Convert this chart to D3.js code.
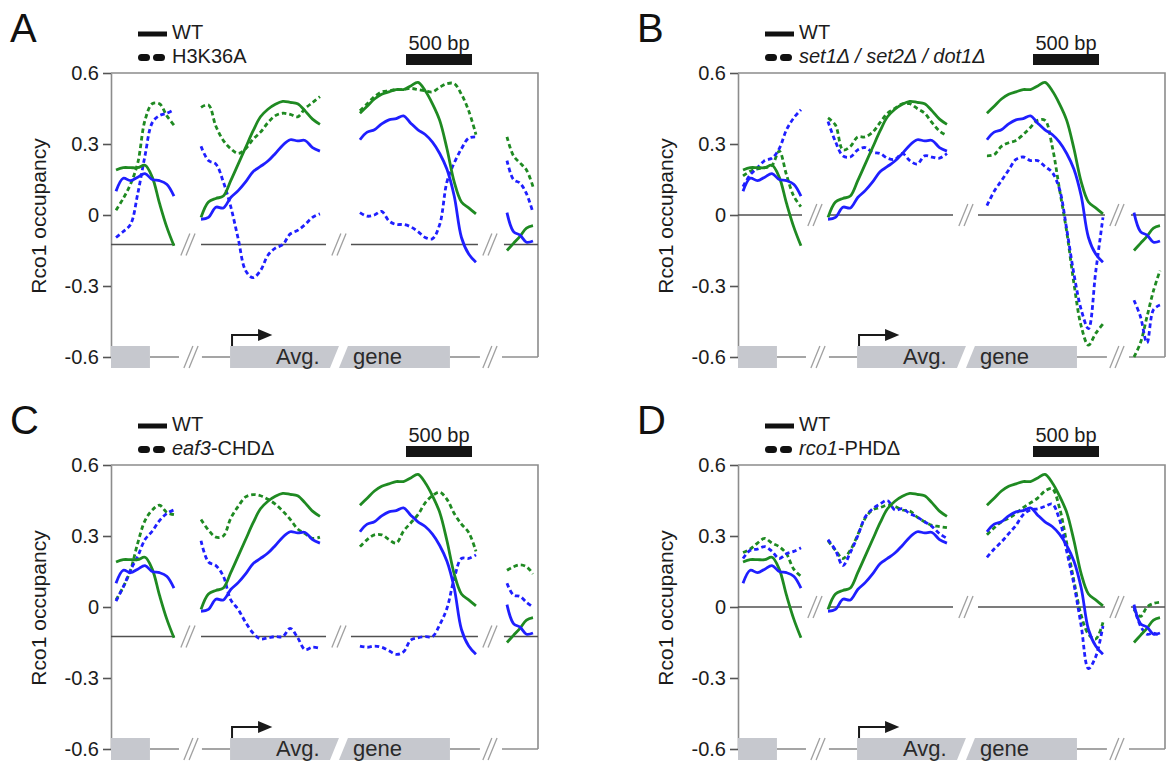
<!DOCTYPE html>
<html>
<head>
<meta charset="utf-8">
<script src="https://cdn.jsdelivr.net/npm/d3@7"></script>
<style>
  body { margin: 0; background: #fff; }
  svg { display: block; font-family: "Liberation Sans", Arial, Helvetica, sans-serif; }
</style>
</head>
<body>
<svg id="fig" width="1169" height="764"></svg>
<script>
// ---------------------------------------------------------------
// Rco1 occupancy across an averaged gene (four probe windows:
// upstream gene end, 5' region, 3' region, downstream gene start)
// ---------------------------------------------------------------

const yTicks = [0.6, 0.3, 0, -0.3, -0.6];
const yTickLabels = ["0.6", "0.3", "0", "-0.3", "-0.6"];
const panelLetters = ["A", "B", "C", "D"];
const yAxisTitle = "Rco1 occupancy";
const wtLabel = "WT";
const scaleBarLabel = "500 bp";
const scaleBarBp = 500;

// mutant legend labels: [text, italic]
const mutantLabelA = [["H3K36A", false]];
const mutantLabelB = [["set1Δ / set2Δ / dot1Δ", true]];
const mutantLabelC = [["eaf3", true], ["-CHDΔ", false]];
const mutantLabelD = [["rco1", true], ["-PHDΔ", false]];

// reference level drawn as thin horizontal rule in each panel
const referenceLevels = [-0.125, 0, -0.125, 0];

// probe window spans along the plotted axis (bp)
const axisLengthBp = 3235;
const probeSpansBp = [[38, 477], [682, 1583], [1886, 2765], [3000, 3197]];

// ---- wild type (shared by all panels) ----
const wtGreen = [
  [0.19, 0.20, 0.20, 0.20, 0.21, 0.16, 0.05, -0.05, -0.13],
  [-0.01, 0.055, 0.07, 0.08, 0.145, 0.215, 0.285, 0.355, 0.415, 0.447, 0.468, 0.48, 0.476, 0.47, 0.44, 0.405, 0.383],
  [0.43, 0.46, 0.49, 0.51, 0.52, 0.53, 0.53, 0.545, 0.56, 0.525, 0.47, 0.40, 0.28, 0.14, 0.055, 0.03, 0.005],
  [-0.15, -0.12, -0.09, -0.055, -0.045]
];
const wtBlue = [
  [0.10, 0.155, 0.145, 0.16, 0.175, 0.15, 0.145, 0.13, 0.08],
  [-0.018, -0.01, 0.033, 0.03, 0.074, 0.103, 0.14, 0.183, 0.205, 0.228, 0.26, 0.295, 0.318, 0.313, 0.315, 0.285, 0.27],
  [0.318, 0.35, 0.36, 0.385, 0.402, 0.407, 0.419, 0.388, 0.36, 0.34, 0.308, 0.26, 0.193, 0.08, -0.095, -0.165, -0.2],
  [0.01, -0.07, -0.085, -0.115, -0.11]
];

// ---- H3K36A ----
const h3k36aGreen = [
  [0.02, 0.07, 0.13, 0.22, 0.40, 0.47, 0.47, 0.42, 0.38],
  [0.455, 0.465, 0.375, 0.315, 0.28, 0.26, 0.28, 0.32, 0.35, 0.39, 0.42, 0.43, 0.425, 0.415, 0.45, 0.475, 0.5],
  [0.44, 0.47, 0.5, 0.52, 0.525, 0.53, 0.53, 0.535, 0.53, 0.525, 0.52, 0.54, 0.555, 0.555, 0.51, 0.44, 0.34],
  [0.33, 0.25, 0.22, 0.19, 0.12]
];
const h3k36aBlue = [
  [-0.095, -0.07, -0.04, 0.09, 0.25, 0.39, 0.42, 0.43, 0.445],
  [0.29, 0.23, 0.215, 0.14, 0.035, -0.1, -0.235, -0.265, -0.235, -0.17, -0.14, -0.125, -0.08, -0.065, -0.04, -0.01, 0.005],
  [0.01, -0.005, 0.0, 0.015, -0.025, -0.04, -0.04, -0.05, -0.07, -0.095, -0.1, -0.04, 0.14, 0.22, 0.28, 0.325, 0.33],
  [0.23, 0.15, 0.135, 0.09, 0.01]
];

// ---- set1Δ / set2Δ / dot1Δ ----
const tripleGreen = [
  [0.165, 0.185, 0.195, 0.2, 0.21, 0.27, 0.17, 0.08, 0.035],
  [0.41, 0.38, 0.275, 0.29, 0.33, 0.33, 0.35, 0.39, 0.43, 0.45, 0.47, 0.47, 0.45, 0.43, 0.39, 0.355, 0.335],
  [0.25, 0.255, 0.29, 0.305, 0.315, 0.34, 0.37, 0.4, 0.4, 0.29, 0.11, -0.07, -0.29, -0.47, -0.55, -0.5, -0.46],
  [-0.6, -0.54, -0.43, -0.32, -0.235]
];
const tripleBlue = [
  [0.12, 0.17, 0.2, 0.23, 0.24, 0.28, 0.36, 0.41, 0.445],
  [0.395, 0.31, 0.25, 0.245, 0.275, 0.285, 0.265, 0.26, 0.24, 0.235, 0.26, 0.23, 0.215, 0.25, 0.245, 0.24, 0.26],
  [0.04, 0.1, 0.145, 0.19, 0.235, 0.245, 0.23, 0.23, 0.205, 0.18, 0.11, -0.06, -0.25, -0.4, -0.48, -0.24, -0.01],
  [-0.36, -0.43, -0.54, -0.4, -0.38]
];

// ---- eaf3-CHDΔ ----
const eaf3Green = [
  [0.03, 0.085, 0.155, 0.27, 0.365, 0.41, 0.43, 0.4, 0.39],
  [0.37, 0.325, 0.295, 0.3, 0.375, 0.425, 0.465, 0.475, 0.47, 0.455, 0.435, 0.405, 0.37, 0.33, 0.31, 0.29, 0.295],
  [0.255, 0.285, 0.305, 0.305, 0.285, 0.27, 0.32, 0.355, 0.39, 0.44, 0.47, 0.485, 0.455, 0.395, 0.35, 0.315, 0.235],
  [0.155, 0.17, 0.178, 0.17, 0.14]
];
const eaf3Blue = [
  [0.025, 0.085, 0.155, 0.215, 0.285, 0.32, 0.365, 0.395, 0.41],
  [0.28, 0.19, 0.175, 0.13, 0.03, -0.01, -0.065, -0.11, -0.135, -0.13, -0.125, -0.125, -0.09, -0.13, -0.18, -0.17, -0.175],
  [-0.165, -0.17, -0.165, -0.17, -0.185, -0.2, -0.19, -0.14, -0.13, -0.125, -0.125, -0.075, -0.005, 0.12, 0.205, 0.205, 0.22],
  [0.1, 0.05, 0.045, 0.02, 0.0]
];

// ---- rco1-PHDΔ ----
const rco1Green = [
  [0.23, 0.245, 0.27, 0.29, 0.27, 0.255, 0.225, 0.16, 0.13],
  [0.28, 0.24, 0.205, 0.24, 0.305, 0.375, 0.41, 0.42, 0.43, 0.425, 0.41, 0.405, 0.38, 0.36, 0.345, 0.34, 0.335],
  [0.305, 0.335, 0.36, 0.375, 0.395, 0.42, 0.44, 0.46, 0.49, 0.5, 0.42, 0.27, 0.11, -0.035, -0.115, -0.135, -0.065],
  [-0.01, -0.04, 0.0, 0.015, 0.02]
];
const rco1Blue = [
  [0.205, 0.24, 0.245, 0.255, 0.235, 0.205, 0.225, 0.235, 0.25],
  [0.285, 0.24, 0.175, 0.23, 0.3, 0.38, 0.415, 0.435, 0.45, 0.41, 0.415, 0.395, 0.38, 0.36, 0.34, 0.31, 0.29],
  [0.21, 0.245, 0.275, 0.31, 0.345, 0.39, 0.41, 0.415, 0.425, 0.435, 0.37, 0.235, 0.095, -0.08, -0.26, -0.21, -0.08],
  [0.0, -0.08, -0.115, -0.11, -0.12]
];

// ---------------------------------------------------------------
// layout
// ---------------------------------------------------------------
const COLORS = { green: "#1f8a22", blue: "#1f1fff", frame: "#8c8c8c", ink: "#1c1c1c",
                 box: "#c6c8ce", diagram: "#8f8f8f", rule: "#505050", brk: "#a0a0a0" };
const PLOT_W = 427;
const TOP = 73, BOTTOM = 357;      // y of 0.6 and -0.6 inside a panel

const panels = [
  { ox: 111, oy: 0,   letter: panelLetters[0], label: mutantLabelA, ref: referenceLevels[0], green: h3k36aGreen, blue: h3k36aBlue },
  { ox: 738, oy: 0,   letter: panelLetters[1], label: mutantLabelB, ref: referenceLevels[1], green: tripleGreen, blue: tripleBlue },
  { ox: 111, oy: 392, letter: panelLetters[2], label: mutantLabelC, ref: referenceLevels[2], green: eaf3Green,   blue: eaf3Blue },
  { ox: 738, oy: 392, letter: panelLetters[3], label: mutantLabelD, ref: referenceLevels[3], green: rco1Green,   blue: rco1Blue }
];

// reference-rule pieces and break positions (bp along the axis)
const ruleSpansBp = [[0, 485], [682, 1629], [1818, 2780], [2977, 3235]];
const ruleBreaksBp = [583, 1727, 2871];
// gene cartoon (bp along the axis)
const geneUpBoxBp = [0, 295];
const geneLinesBp = [[295, 515], [689, 902], [2568, 2795], [2962, 3235]];
const geneBreaksBp = [606, 2871];
const tssBp = 917, arrowHeadBaseBp = 1114, arrowTipBp = 1222;
const avgBoxBp = { left: 902, topRight: 1727, bottomRight: 1659 };
const geneBoxBp = { topLeft: 1795, bottomLeft: 1727, right: 2568 };
const avgTextBp = 1250, geneTextBp = 1833;
const scaleBarStartBp = 2235;

const svg = d3.select("#fig");

function breakMark(g, cx, cy) {
  g.append("polygon")
    .attr("points", `${cx - 9},${cy + 11} ${cx + 1},${cy - 11} ${cx + 9},${cy - 11} ${cx - 1},${cy + 11}`)
    .attr("fill", "#fff");
  [-2.6, 2.6].forEach(o => {
    g.append("line")
      .attr("x1", cx + o - 4.5).attr("y1", cy + 11)
      .attr("x2", cx + o + 4.5).attr("y2", cy - 11)
      .attr("stroke", COLORS.brk).attr("stroke-width", 1.3);
  });
}

function seriesPoints(segValues, k) {
  const [a, b] = probeSpansBp[k];
  const n = segValues.length;
  return segValues.map((v, j) => ({ bp: a + (b - a) * j / (n - 1), v }));
}

panels.forEach(p => {
  const g = svg.append("g");
  const x = d3.scaleLinear().domain([0, axisLengthBp]).range([p.ox, p.ox + PLOT_W]);
  const y = d3.scaleLinear().domain([-0.6, 0.6]).range([p.oy + BOTTOM, p.oy + TOP]);

  // panel letter
  g.append("text").attr("x", p.ox - 101).attr("y", p.oy + 42)
    .attr("font-size", 40).attr("fill", "#111").text(p.letter);

  // legend
  g.append("line").attr("x1", p.ox + 27).attr("x2", p.ox + 56)
    .attr("y1", p.oy + 34).attr("y2", p.oy + 34)
    .attr("stroke", "#111").attr("stroke-width", 5);
  [[30.5, 35.5], [45.5, 50.5]].forEach(([a, b]) => {
    g.append("line").attr("x1", p.ox + a).attr("x2", p.ox + b)
      .attr("y1", p.oy + 57.5).attr("y2", p.oy + 57.5)
      .attr("stroke", "#111").attr("stroke-width", 7).attr("stroke-linecap", "round");
  });
  g.append("text").attr("x", p.ox + 61).attr("y", p.oy + 39)
    .attr("font-size", 20).attr("fill", COLORS.ink).text(wtLabel);
  const ml = g.append("text").attr("x", p.ox + 61).attr("y", p.oy + 63)
    .attr("font-size", 20).attr("fill", COLORS.ink);
  p.label.forEach(([t, it]) => {
    ml.append("tspan").attr("font-style", it ? "italic" : "normal").text(t);
  });

  // scale bar
  const sb0 = x(scaleBarStartBp), sb1 = x(scaleBarStartBp + scaleBarBp);
  g.append("rect").attr("x", sb0).attr("y", p.oy + 54)
    .attr("width", sb1 - sb0).attr("height", 11).attr("fill", "#151515");
  g.append("text").attr("x", (sb0 + sb1) / 2).attr("y", p.oy + 50)
    .attr("text-anchor", "middle").attr("font-size", 20).attr("fill", COLORS.ink)
    .text(scaleBarLabel);

  // y axis
  const axis = d3.axisLeft(y).tickValues(yTicks).tickSize(8).tickSizeOuter(0).tickPadding(4)
    .tickFormat((d, i) => yTickLabels[i]);
  const ag = g.append("g").attr("transform", `translate(${p.ox},0)`).call(axis);
  ag.select(".domain").attr("stroke", COLORS.frame).attr("stroke-width", 1.6);
  ag.selectAll(".tick line").attr("stroke", "#555").attr("stroke-width", 1.6);
  ag.selectAll(".tick text").attr("font-size", 20).attr("fill", COLORS.ink)
    .attr("font-family", "Liberation Sans, Arial, sans-serif");

  // top and right frame
  g.append("path")
    .attr("d", `M${p.ox},${y(0.6)}H${x(axisLengthBp)}V${y(-0.6)}`)
    .attr("fill", "none").attr("stroke", COLORS.frame).attr("stroke-width", 1.6);

  // y title
  g.append("text")
    .attr("transform", `translate(${p.ox - 65},${p.oy + 216}) rotate(-90)`)
    .attr("text-anchor", "middle").attr("font-size", 21).attr("fill", COLORS.ink)
    .text(yAxisTitle);

  // reference rule with breaks
  ruleSpansBp.forEach(([a, b]) => {
    g.append("line").attr("x1", x(a)).attr("x2", x(b))
      .attr("y1", y(p.ref)).attr("y2", y(p.ref))
      .attr("stroke", COLORS.rule).attr("stroke-width", 1.5);
  });
  ruleBreaksBp.forEach(b => breakMark(g, x(b), y(p.ref)));

  // gene cartoon along the -0.6 level
  const yb = y(-0.6);
  geneLinesBp.forEach(([a, b]) => {
    g.append("line").attr("x1", x(a)).attr("x2", x(b)).attr("y1", yb).attr("y2", yb)
      .attr("stroke", COLORS.diagram).attr("stroke-width", 1.6);
  });
  geneBreaksBp.forEach(b => breakMark(g, x(b), yb));
  g.append("rect").attr("x", x(geneUpBoxBp[0])).attr("y", yb - 11)
    .attr("width", x(geneUpBoxBp[1]) - x(geneUpBoxBp[0])).attr("height", 22)
    .attr("fill", COLORS.box);
  g.append("polygon").attr("points", [
      [x(avgBoxBp.left), yb - 11], [x(avgBoxBp.topRight), yb - 11],
      [x(avgBoxBp.bottomRight), yb + 11], [x(avgBoxBp.left), yb + 11]
    ].map(d => d.join(",")).join(" ")).attr("fill", COLORS.box);
  g.append("polygon").attr("points", [
      [x(geneBoxBp.topLeft), yb - 11], [x(geneBoxBp.right), yb - 11],
      [x(geneBoxBp.right), yb + 11], [x(geneBoxBp.bottomLeft), yb + 11]
    ].map(d => d.join(",")).join(" ")).attr("fill", COLORS.box);
  g.append("text").attr("x", x(avgTextBp)).attr("y", yb + 7)
    .attr("font-size", 22).attr("fill", "#2a2a2a").text("Avg.");
  g.append("text").attr("x", x(geneTextBp)).attr("y", yb + 7)
    .attr("font-size", 22).attr("fill", "#2a2a2a").text("gene");
  // transcription start arrow
  g.append("path")
    .attr("d", `M${x(tssBp)},${yb - 11}V${yb - 22}H${x(arrowHeadBaseBp) + 2}`)
    .attr("fill", "none").attr("stroke", "#1a1a1a").attr("stroke-width", 2);
  g.append("polygon").attr("points",
      `${x(arrowHeadBaseBp)},${yb - 28} ${x(arrowTipBp)},${yb - 22} ${x(arrowHeadBaseBp)},${yb - 16}`)
    .attr("fill", "#1a1a1a");

  // profiles
  const line = d3.line().x(d => x(d.bp)).y(d => y(d.v)).curve(d3.curveCatmullRom.alpha(0.5));
  const series = [
    { data: p.green, color: COLORS.green, dash: "4.5,3" },
    { data: p.blue,  color: COLORS.blue,  dash: "4.5,3" },
    { data: wtGreen, color: COLORS.green, dash: null },
    { data: wtBlue,  color: COLORS.blue,  dash: null }
  ];
  series.forEach(s => {
    s.data.forEach((seg, k) => {
      g.append("path").datum(seriesPoints(seg, k))
        .attr("d", line).attr("fill", "none")
        .attr("stroke", s.color).attr("stroke-width", 2.8)
        .attr("stroke-linejoin", "round")
        .attr("stroke-dasharray", s.dash);
    });
  });
});
</script>
</body>
</html>
